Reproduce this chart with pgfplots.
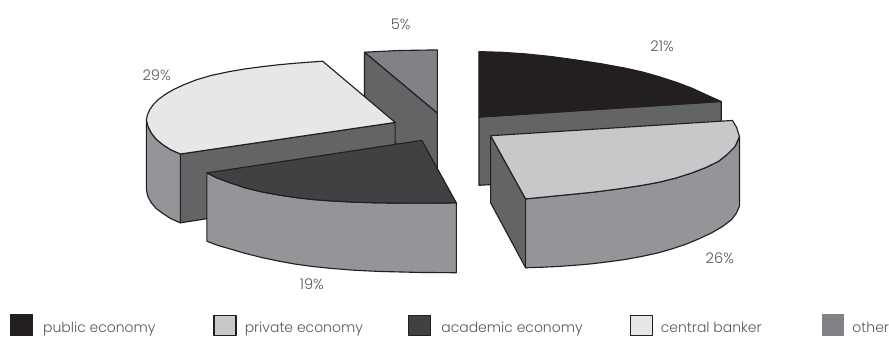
\documentclass[border=0pt]{standalone}
\usepackage{fontspec}
\setmainfont{Poppins Light}
\usepackage{pgfplots}
\pgfplotsset{compat=1.18}
\definecolor{edge}{HTML}{231F20}
\definecolor{publicc}{HTML}{231F20}
\definecolor{privatec}{HTML}{C7C8CA}
\definecolor{academicc}{HTML}{414042}
\definecolor{centralc}{HTML}{E6E7E8}
\definecolor{otherc}{HTML}{808285}
\definecolor{cutface}{HTML}{636466}
\definecolor{rimface}{HTML}{939598}
\definecolor{labeltext}{HTML}{58595B}
\tikzset{
  lab/.style={font=\fontsize{10.5}{12}\selectfont, text=labeltext, inner sep=0pt},
  share/.style={font=\fontsize{11}{13}\selectfont, text=labeltext, inner sep=0pt},
}
\begin{document}
\begin{tikzpicture}
\begin{axis}[
  hide axis, scale only axis,
  width=666.75pt, height=252.75pt,
  xmin=0, xmax=889, ymin=0, ymax=337, y dir=reverse,
  clip=false,
  every axis plot/.append style={line width=0.85pt, line join=round, draw=edge, mark=none},
]
% white page behind the chart
\addplot[fill=white, draw=none] coordinates {(0,0)(889,0)(889,337)(0,337)} -- cycle;
% other (5%)
\addplot[fill=cutface] coordinates {(365.3,52.3)(438.3,113.3)(438.3,175)(365.3,120)} -- cycle;
\addplot[fill=otherc] coordinates {(365.3,52.3)(400,50.6)(438.3,50)(438.3,113.3)} -- cycle;
% central banker (29%)
\addplot[fill=cutface] coordinates {(180.7,154.3)(396,122.7)(396,190)(180.7,223.3)} -- cycle;
\addplot[fill=rimface] coordinates {(180.7,154.3)(171,150)(163.3,145)(156.5,139.5)(151.7,133.3)(148.2,126.5)(146.7,120)(146.7,190)(148.2,197)(151.7,203.3)(156.5,209)(163.3,214)(171,219)(180.7,223.3)} -- cycle;
\addplot[fill=centralc] coordinates {(180.7,154.3)(171,150)(163.3,145)(156.5,139.5)(151.7,133.3)(148.2,126.5)(146.7,120)(147.8,115)(150,110)(153.5,105)(158.3,100)(165,95)(173.3,90)(184,85)(196.7,80)(212,75.5)(230,71.7)(246,69)(263.3,66.7)(280,64.8)(296.7,63.3)(323.3,61.3)(396,122.7)} -- cycle;
% public economy (21%)
\addplot[fill=cutface] coordinates {(480,117.3)(722.7,101.7)(722.7,168)(491.7,185)(480,185.7)} -- cycle;
\addplot[fill=publicc] coordinates {(480,51.7)(503,52.4)(526.7,54)(552,56.6)(576.7,60)(602,63.8)(626.7,68.3)(644,72.2)(660,76.7)(677,82.2)(693.3,88.3)(710,96)(722.7,101.7)(480,117.3)} -- cycle;
% academic economy (19%)
\addplot[fill=rimface] coordinates {(207.3,173.3)(218,178.5)(230,183)(246,188.3)(263.3,192.5)(280,195.5)(296.7,198)(313,199.9)(330,201.2)(355,202.6)(380,203.3)(420,203.6)(457.3,203.3)(457.3,273.3)(420,273)(380,272)(355,270.8)(330,268.8)(313,267)(296.7,264.8)(280,261.8)(263.3,258.3)(246,254)(230,249.3)(218,245.8)(207.3,241.7)} -- cycle;
\addplot[fill=academicc] coordinates {(207.3,173.3)(218,178.5)(230,183)(246,188.3)(263.3,192.5)(280,195.5)(296.7,198)(313,199.9)(330,201.2)(355,202.6)(380,203.3)(420,203.6)(457.3,203.3)(422.7,140.7)} -- cycle;
% private economy (26%)
\addplot[fill=cutface] coordinates {(491.7,136)(526.7,199.3)(526.7,268.3)(491.7,203.3)} -- cycle;
\addplot[fill=rimface] coordinates {(741,136.7)(736.7,146.7)(729,154.5)(720,161.7)(707,168)(693.3,173.3)(677,178.5)(660,182.7)(643,185.8)(626.7,188.3)(610,190.6)(593.3,192.7)(576.7,194.4)(560,196)(543,197.7)(526.7,199.3)(526.7,268.3)(543,267.8)(560,267)(576.7,265.8)(593.3,264.3)(610,262.3)(626.7,260)(643,257)(660,253.3)(673,249.5)(686.7,245)(700,239.5)(713.3,233.3)(724,227)(733.3,220)(738,213.5)(741,206.7)} -- cycle;
\addplot[fill=privatec] coordinates {(491.7,136)(734,120.7)(738.3,128)(741,136.7)(736.7,146.7)(729,154.5)(720,161.7)(707,168)(693.3,173.3)(677,178.5)(660,182.7)(643,185.8)(626.7,188.3)(610,190.6)(593.3,192.7)(576.7,194.4)(560,196)(543,197.7)(526.7,199.3)} -- cycle;
% legend keys
\addplot[fill=publicc] coordinates {(10.5,315)(32.5,315)(32.5,336)(10.5,336)} -- cycle;
\addplot[fill=privatec] coordinates {(214.5,316)(236.5,316)(236.5,336)(214.5,336)} -- cycle;
\addplot[fill=academicc] coordinates {(409.5,316)(431.5,316)(431.5,336)(409.5,336)} -- cycle;
\addplot[fill=centralc] coordinates {(631.5,316)(653.5,316)(653.5,336)(631.5,336)} -- cycle;
\addplot[fill=otherc, draw=none] coordinates {(823.5,315)(846,315)(846,336.5)(823.5,336.5)} -- cycle;
% slice shares
\node[share] at (axis cs:401.5,24) {5\%};
\node[share] at (axis cs:157,75) {29\%};
\node[share] at (axis cs:312.5,285) {19\%};
\node[share] at (axis cs:663.5,46.5) {21\%};
\node[share] at (axis cs:721.3,259) {26\%};
% legend texts
\node[lab,anchor=base west] at (axis cs:43,333) {public economy};
\node[lab,anchor=base west] at (axis cs:245,333) {private economy};
\node[lab,anchor=base west] at (axis cs:442,333) {academic economy};
\node[lab,anchor=base west] at (axis cs:662,333) {central banker};
\node[lab,anchor=base west] at (axis cs:854,333) {other};
\end{axis}
\end{tikzpicture}
\end{document}
